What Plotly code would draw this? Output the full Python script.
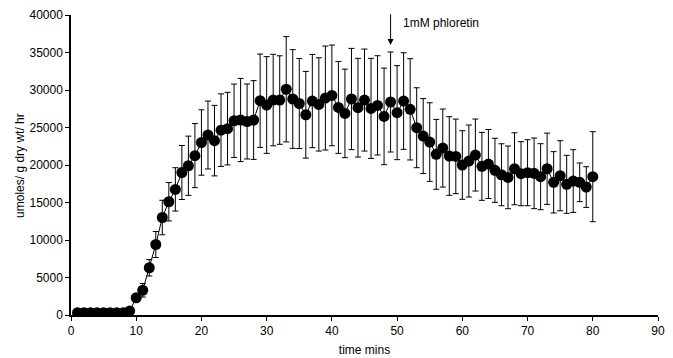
import plotly.graph_objects as go

time_mins = list(range(1, 81))
rate = [300, 300, 300, 300, 300, 300, 300, 300, 550, 2300,
        3300, 6300, 9400, 13000, 15100, 16750, 19000, 19900, 21250, 23000,
        24000, 23250, 24650, 24850, 25900, 26000, 25800, 26000, 28570, 28000,
        28660, 28660, 30100, 28800, 28200, 26700, 28530, 28080, 28930, 29280,
        27680, 26880, 28800, 27640, 28660, 27550, 27950, 26480, 28400, 26980,
        28530, 27420, 24970, 23860, 23060, 21420, 22260, 21200, 21150, 20000,
        20530, 21330, 19820, 20130, 19290, 18700, 18350, 19500, 18840, 18970,
        18890, 18440, 19500, 17690, 18570, 17420, 17860, 17690, 17060, 18440]
err = [0, 0, 0, 0, 0, 0, 0, 0, 0, 500,
       900, 1100, 1730, 2300, 2560, 2890, 3600, 3950, 4270, 4360,
       4530, 4700, 4840, 4840, 4890, 5550, 5000, 5250, 6220, 6450,
       6100, 5900, 7020, 6580, 6000, 5780, 6220, 6220, 6930, 6710,
       6130, 5900, 6750, 6580, 6800, 6670, 6620, 6440, 6670, 6270,
       6440, 6750, 5330, 5000, 5240, 4660, 5200, 5240, 4970, 4570,
       4800, 4800, 4530, 4600, 4270, 4130, 4180, 4800, 4270, 4400,
       4710, 4400, 4750, 4090, 4670, 3870, 4180, 2580, 2710, 6000]

annot_text = "1mM phloretin"
annot_time = 49
y_title = "umoles/ g dry wt/ hr"
x_title = "time mins"

fig = go.Figure()
fig.add_trace(go.Scatter(
    x=time_mins, y=rate,
    mode="lines+markers",
    line=dict(color="black", width=1),
    marker=dict(color="black", size=11),
    error_y=dict(type="data", array=err, visible=True, color="black",
                 thickness=1, width=3),
    showlegend=False,
))

fig.add_annotation(x=annot_time, y=36000, ax=annot_time, ay=40300,
                   xref="x", yref="y", axref="x", ayref="y",
                   showarrow=True, arrowhead=2, arrowsize=1.2, arrowwidth=1,
                   arrowcolor="black", text="")
fig.add_annotation(x=50.6, y=38900, xref="x", yref="y", text=annot_text,
                   showarrow=False, xanchor="left", yanchor="middle",
                   font=dict(size=12, color="black"))

axis_font = dict(family="Liberation Sans, Arial, sans-serif", size=12, color="black")

# y-axis title placed as rotated text left of the tick labels
fig.add_annotation(x=-0.087, y=0.5, xref="paper", yref="paper", text=y_title,
                   textangle=-90, showarrow=False, xanchor="center", yanchor="middle",
                   font=axis_font)

fig.update_layout(
    width=673, height=358,
    margin=dict(l=71, r=15, t=15, b=43),
    plot_bgcolor="white", paper_bgcolor="white",
    font=dict(family="Liberation Sans, Arial, sans-serif", size=12, color="black"),
    xaxis=dict(range=[0, 90], dtick=10, showgrid=False, zeroline=False,
               showline=True, linecolor="black", linewidth=1.5,
               ticks="outside", ticklen=4, tickcolor="black",
               tickfont=axis_font, automargin=False,
               title=dict(text=x_title, font=axis_font, standoff=8)),
    yaxis=dict(range=[0, 40000], dtick=5000, tickformat="d",
               showgrid=False, zeroline=False,
               showline=True, linecolor="black", linewidth=1.5,
               ticks="outside", ticklen=4, tickcolor="black",
               tickfont=axis_font, automargin=False),
)

fig.write_html("out.html", config={"displayModeBar": False},
               post_script="document.body.style.margin='0';document.body.style.overflow='hidden';")
